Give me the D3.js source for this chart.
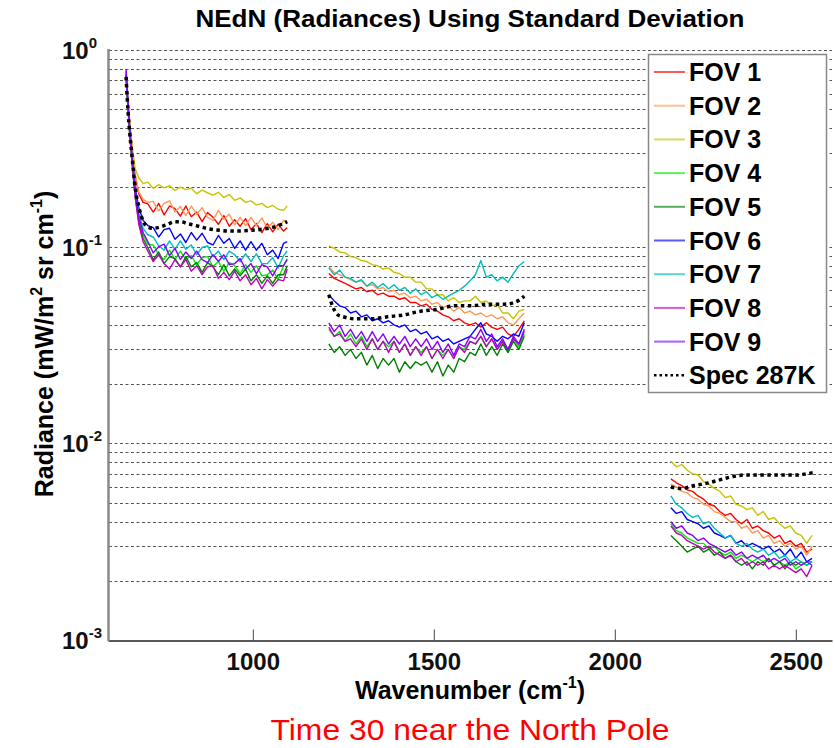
<!DOCTYPE html>
<html>
<head>
<meta charset="utf-8">
<script src="https://cdn.jsdelivr.net/npm/d3@7"></script>
<style>
    body { margin: 0; background: white; }
    text { font-family: "Liberation Sans", Arial, sans-serif; }
</style>
</head>
<body>
<svg id="chart" width="835" height="748"></svg>
<script>
// wavenumber grids (cm-1) for the three bands
const wnB1= [650,655,660,667,675,685,697,710,725,740,755,770,785,800,815,830,845,860,875,890,905,920,935,950,965,980,995,1010,1025,1040,1055,1070,1085,1095];
const wnB2= [1210,1225,1240,1255,1270,1285,1300,1315,1330,1345,1360,1375,1390,1405,1420,1435,1450,1465,1480,1495,1510,1525,1540,1555,1570,1585,1600,1615,1630,1645,1660,1675,1690,1705,1720,1735,1750];
const wnB3= [2155,2170,2185,2200,2215,2230,2245,2260,2275,2290,2305,2320,2335,2350,2365,2380,2395,2410,2425,2440,2455,2470,2485,2500,2515,2530,2545];

const fov1B1= [.74,.54,.41,.30,.23,.186,.168,.165,.150,.166,.145,.161,.156,.143,.161,.142,.150,.134,.149,.141,.130,.144,.127,.137,.127,.139,.122,.131,.118,.131,.119,.130,.120,.125];
const fov2B1= [.75,.55,.42,.31,.235,.19,.174,.168,.170,.152,.166,.171,.150,.160,.144,.161,.146,.158,.141,.136,.153,.138,.146,.129,.141,.128,.141,.128,.140,.124,.133,.122,.136,.133];
const fov3B1= [.76,.56,.43,.32,.25,.224,.209,.213,.198,.207,.199,.204,.193,.201,.195,.198,.186,.194,.188,.183,.189,.178,.184,.172,.177,.168,.171,.163,.166,.158,.162,.155,.153,.161];
const fov4B1= [.74,.52,.38,.27,.19,.138,.115,.103,.102,.091,.086,.096,.086,.095,.086,.090,.081,.088,.089,.079,.084,.075,.083,.080,.073,.081,.074,.080,.071,.072,.076,.068,.080,.087];
const fov5B1= [.73,.51,.37,.26,.18,.134,.11,.099,.086,.094,.082,.089,.087,.079,.089,.079,.083,.074,.083,.079,.072,.081,.071,.077,.071,.077,.067,.072,.065,.071,.065,.072,.072,.080];
const fov6B1= [.75,.53,.39,.28,.20,.158,.136,.128,.125,.112,.122,.124,.109,.116,.105,.118,.108,.117,.105,.102,.114,.104,.110,.098,.107,.096,.106,.096,.104,.091,.096,.087,.104,.106];
const fov7B1= [.74,.52,.38,.27,.19,.148,.124,.115,.112,.101,.096,.107,.097,.107,.097,.102,.091,.099,.101,.089,.095,.086,.095,.091,.084,.092,.084,.092,.082,.082,.088,.078,.090,.095];
const fov8B1= [.78,.53,.38,.26,.18,.13,.106,.095,.084,.091,.082,.077,.086,.079,.086,.075,.080,.072,.079,.080,.069,.074,.068,.075,.067,.072,.064,.069,.061,.068,.063,.068,.067,.077];
const fov9B1= [.80,.55,.40,.28,.19,.142,.118,.106,.093,.100,.103,.090,.098,.086,.094,.087,.095,.086,.083,.091,.084,.091,.081,.082,.087,.077,.082,.073,.081,.079,.071,.080,.080,.086];

const fov1B2= [.073,.069,.067,.065,.063,.061,.062,.059,.06,.057,.058,.056,.056,.054,.055,.052,.052,.05,.051,.048,.047,.045,.044,.042,.043,.041,.04,.041,.039,.041,.039,.038,.039,.036,.035,.038,.042];
const fov2B2= [.079,.074,.072,.07,.068,.066,.067,.063,.064,.061,.062,.059,.06,.057,.058,.055,.056,.053,.054,.051,.052,.049,.05,.047,.049,.046,.047,.045,.046,.044,.045,.043,.044,.041,.04,.043,.046];
const fov3B2= [.101,.098,.094,.093,.089,.088,.085,.084,.081,.08,.077,.078,.074,.073,.07,.07,.066,.066,.061,.061,.057,.057,.053,.055,.052,.053,.053,.056,.052,.053,.05,.051,.046,.046,.043,.047,.048];
const fov4B2= [.038,.035,.037,.033,.036,.032,.035,.031,.034,.03,.033,.031,.033,.029,.032,.028,.031,.029,.031,.027,.03,.028,.03,.027,.031,.03,.033,.032,.035,.031,.034,.03,.033,.029,.034,.031,.036];
const fov5B2= [.032,.029,.031,.028,.03,.027,.029,.025,.028,.024,.027,.025,.027,.023,.026,.024,.026,.025,.026,.023,.026,.022,.025,.023,.027,.026,.029,.028,.032,.028,.031,.028,.032,.029,.033,.03,.035];
const fov6B2= [.057,.053,.05,.049,.046,.047,.044,.045,.042,.043,.041,.042,.04,.039,.04,.037,.038,.036,.037,.034,.035,.033,.034,.032,.033,.034,.035,.038,.041,.036,.035,.033,.035,.034,.036,.035,.041];
const fov7B2= [.078,.072,.076,.07,.069,.066,.068,.063,.066,.062,.065,.061,.064,.06,.062,.058,.061,.057,.059,.055,.057,.054,.056,.058,.06,.063,.067,.072,.085,.07,.072,.067,.07,.066,.073,.08,.084];
const fov8B2= [.039,.035,.036,.033,.034,.031,.034,.03,.034,.03,.033,.029,.033,.029,.032,.028,.031,.028,.031,.027,.03,.027,.03,.027,.031,.029,.033,.032,.035,.031,.034,.03,.033,.03,.034,.032,.037];
const fov9B2= [.041,.037,.04,.035,.038,.034,.037,.033,.037,.033,.036,.032,.035,.032,.035,.031,.034,.031,.034,.03,.033,.029,.032,.028,.032,.031,.035,.034,.038,.033,.036,.031,.034,.03,.035,.032,.038];

const fov1B3= [.0066,.0063,.0061,.0058,.0057,.0054,.0052,.0049,.0048,.0045,.0043,.0044,.0041,.0039,.0041,.0037,.0038,.0036,.0035,.0033,.0034,.0031,.0032,.003,.0031,.0028,.0029];
const fov2B3= [.0062,.006,.0057,.0056,.0053,.0052,.0049,.0048,.0045,.0044,.0042,.004,.004,.0037,.0038,.0035,.0036,.0033,.0034,.0031,.0032,.003,.0031,.0029,.003,.0027,.003];
const fov3B3= [.0081,.0076,.0078,.0073,.007,.0069,.0064,.0062,.0059,.0057,.0053,.0054,.0049,.0048,.0046,.0047,.0043,.0045,.0041,.0042,.0039,.0037,.0038,.0035,.0034,.0031,.0034];
const fov4B3= [.0039,.0036,.0035,.0033,.0032,.0031,.0031,.0029,.003,.0028,.0027,.0028,.0026,.0027,.0026,.0025,.0026,.0025,.0026,.0024,.0025,.0024,.0025,.0023,.0024,.0025,.0025];
const fov5B3= [.0034,.0032,.003,.0028,.0029,.003,.0028,.0029,.0027,.0028,.0026,.0027,.0025,.0024,.0025,.0023,.0025,.0024,.0026,.0024,.0025,.0023,.0025,.0024,.0025,.0024,.0025];
const fov6B3= [.0047,.0044,.0045,.0041,.004,.0039,.0037,.0038,.0035,.0034,.0033,.0034,.0031,.0032,.003,.0031,.003,.0029,.003,.0028,.0029,.0027,.0029,.0026,.0028,.0025,.0026];
const fov7B3= [.0054,.0049,.0047,.0044,.0042,.0043,.0039,.004,.0037,.0035,.0033,.0034,.0031,.003,.0031,.0029,.0028,.0029,.0027,.0028,.0026,.0027,.0025,.0026,.0025,.0024,.0025];
const fov8B3= [.0038,.0035,.0034,.0032,.0031,.003,.0029,.003,.0028,.0027,.0026,.0027,.0025,.0026,.0024,.0025,.0024,.0025,.0023,.0024,.0023,.0024,.0023,.0022,.0023,.0021,.0024];
const fov9B3= [.004,.0037,.0038,.0035,.0034,.0032,.0033,.0031,.003,.0029,.0028,.0029,.0027,.0028,.0026,.0027,.0026,.0027,.0025,.0026,.0025,.0026,.0024,.0025,.0024,.0025,.0024];

// spectrum at 287K (smooth reference curve)
const specWn1= [650,655,660,667,675,685,697,710,725,745,765,785,800,820,850,880,910,950,990,1030,1060,1080,1095];
const spec1= [.73,.5,.38,.28,.2,.16,.135,.126,.124,.126,.13,.134,.134,.131,.127,.123,.121,.12,.121,.123,.126,.13,.134];
const specWn2= [1210,1220,1235,1250,1280,1330,1372,1418,1464,1510,1556,1602,1648,1695,1722,1745,1750];
const spec2= [.057,.05,.045,.044,.043,.043,.044,.045,.047,.048,.05,.05,.051,.051,.052,.055,.056];
const specWn3= [2155,2185,2220,2260,2300,2330,2360,2400,2450,2500,2530,2550];
const spec3= [.006,.0059,.0061,.0063,.0066,.0068,.0069,.0069,.0069,.0069,.007,.0071];

const fovNames= ["FOV 1","FOV 2","FOV 3","FOV 4","FOV 5","FOV 6","FOV 7","FOV 8","FOV 9"];
const fovColors= ["#ff0000","#ff9955","#c8c400","#00ee00","#008000","#0000ff","#00bebe","#c000c0","#8a00ff"];
const xTicks= [1000,1500,2000,2500];
const yTickExps= [0,-1,-2,-3];

const fovData= [
    [fov1B1,fov1B2,fov1B3],[fov2B1,fov2B2,fov2B3],[fov3B1,fov3B2,fov3B3],
    [fov4B1,fov4B2,fov4B3],[fov5B1,fov5B2,fov5B3],[fov6B1,fov6B2,fov6B3],
    [fov7B1,fov7B2,fov7B3],[fov8B1,fov8B2,fov8B3],[fov9B1,fov9B2,fov9B3],
]
const wnGrids= [wnB1, wnB2, wnB3]

const svg= d3.select("#chart")
const font= "Liberation Sans, Arial, sans-serif"

const x= d3.scaleLinear().domain([600, 2600]).range([108, 832])
const y= d3.scaleLog().domain([1e-3, 1]).range([640, 50])

// horizontal dotted grid (decades + minor)
svg.append("g")
    .selectAll("line")
    .data(y.ticks().filter(v => v > 1.5e-3))
    .join("line")
    .attr("x1", 109)
    .attr("x2", 832)
    .attr("y1", d => Math.round(y(d)) + 0.5)
    .attr("y2", d => Math.round(y(d)) + 0.5)
    .attr("stroke", "#555")
    .attr("stroke-width", 1)
    .attr("stroke-dasharray", "3,2.5")

// x axis
const xAxis= svg.append("g")
    .attr("transform", "translate(0,640.5)")
    .call(d3.axisBottom(x).tickValues(xTicks).tickSizeInner(-11).tickSizeOuter(0).tickPadding(12).tickFormat(d3.format("d")))
xAxis.select(".domain").attr("stroke", "#222").attr("stroke-width", 1.5)
xAxis.selectAll(".tick line").attr("stroke", "#444")
xAxis.selectAll(".tick text")
    .attr("font-family", font)
    .attr("font-size", 24)
    .attr("font-weight", "bold")
    .attr("fill", "#111")

// left axis line
svg.append("line")
    .attr("x1", 108.5).attr("x2", 108.5)
    .attr("y1", 49).attr("y2", 641)
    .attr("stroke", "#8a8a8a")
    .attr("stroke-width", 2.5)

// y tick labels 10^n
const yLabels= svg.append("g")
    .selectAll("text")
    .data(yTickExps)
    .join("text")
    .attr("x", 62)
    .attr("y", d => y(Math.pow(10, d)) + 9)
    .attr("font-family", font)
    .attr("font-size", 24)
    .attr("font-weight", "bold")
    .attr("fill", "#111")
yLabels.append("tspan").text("10")
yLabels.append("tspan")
    .attr("dy", -11)
    .attr("font-size", 15)
    .text(d => d)

// data lines
const line= d3.line()
    .x(d => x(d[0]))
    .y(d => y(d[1]))

fovData.forEach((bands, i) => {
    bands.forEach((vals, b) => {
        svg.append("path")
            .datum(d3.zip(wnGrids[b], vals))
            .attr("d", line)
            .attr("fill", "none")
            .attr("stroke", fovColors[i])
            .attr("stroke-width", 1.4)
            .attr("stroke-linejoin", "round")
    })
})

const specLine= d3.line()
    .x(d => x(d[0]))
    .y(d => y(d[1]))
    .curve(d3.curveMonotoneX)

const specBands= [[specWn1, spec1], [specWn2, spec2], [specWn3, spec3]]
specBands.forEach(s => {
    svg.append("path")
        .datum(d3.zip(s[0], s[1]))
        .attr("d", specLine)
        .attr("fill", "none")
        .attr("stroke", "black")
        .attr("stroke-width", 3.5)
        .attr("stroke-dasharray", "3.5,3.5")
})

// legend
const legend= svg.append("g")
legend.append("rect")
    .attr("x", 648.5).attr("y", 54.5)
    .attr("width", 178).attr("height", 338)
    .attr("fill", "white")
    .attr("stroke", "#888")
    .attr("stroke-width", 1.5)

const legendItems= fovNames.map((n, i) => ({name: n, color: fovColors[i], dash: null}))
legendItems.push({name: "Spec 287K", color: "black", dash: "2.5,3"})

const items= legend.selectAll("g.item")
    .data(legendItems)
    .join("g")
    .attr("class", "item")
    .attr("transform", (d, i) => `translate(0,${72 + i * 33.7})`)
items.append("line")
    .attr("x1", 654).attr("x2", 685)
    .attr("stroke", d => d.color)
    .attr("stroke-opacity", d => d.dash ? 1 : 0.65)
    .attr("stroke-width", d => d.dash ? 2.5 : 2)
    .attr("stroke-dasharray", d => d.dash)
items.append("text")
    .attr("x", 689)
    .attr("y", 9)
    .attr("font-family", font)
    .attr("font-size", 25)
    .attr("font-weight", "bold")
    .attr("fill", "black")
    .text(d => d.name)

// title and axis labels
svg.append("text")
    .attr("x", 470).attr("y", 27)
    .attr("text-anchor", "middle")
    .attr("font-family", font)
    .attr("font-size", 24)
    .attr("font-weight", "bold")
    .attr("textLength", 549)
    .attr("lengthAdjust", "spacingAndGlyphs")
    .text("NEdN (Radiances) Using Standard Deviation")

const xLabel= svg.append("text")
    .attr("x", 470).attr("y", 699)
    .attr("text-anchor", "middle")
    .attr("font-family", font)
    .attr("font-size", 25)
    .attr("font-weight", "bold")
xLabel.append("tspan").text("Wavenumber (cm")
xLabel.append("tspan").attr("dy", -11).attr("font-size", 16).text("-1")
xLabel.append("tspan").attr("dy", 11).text(")")

const yLabel= svg.append("text")
    .attr("transform", "translate(53,344) rotate(-90)")
    .attr("text-anchor", "middle")
    .attr("font-family", font)
    .attr("font-size", 25)
    .attr("font-weight", "bold")
yLabel.append("tspan").text("Radiance (mW/m")
yLabel.append("tspan").attr("dy", -11).attr("font-size", 16).text("2")
yLabel.append("tspan").attr("dy", 11).text(" sr cm")
yLabel.append("tspan").attr("dy", -11).attr("font-size", 16).text("-1")
yLabel.append("tspan").attr("dy", 11).text(")")

svg.append("text")
    .attr("x", 470).attr("y", 740)
    .attr("text-anchor", "middle")
    .attr("font-family", font)
    .attr("font-size", 30)
    .attr("fill", "#ff0000")
    .attr("textLength", 399)
    .attr("lengthAdjust", "spacingAndGlyphs")
    .text("Time 30 near the North Pole")
</script>
</body>
</html>
